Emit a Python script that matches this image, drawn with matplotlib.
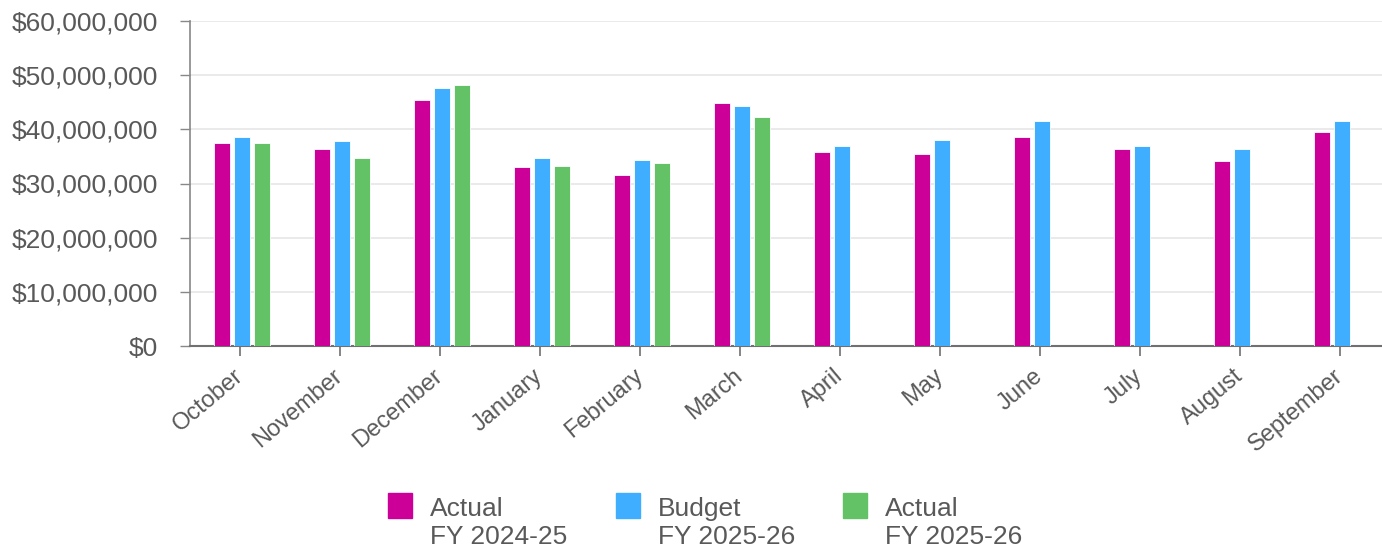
import matplotlib
matplotlib.use("Agg")
import matplotlib.pyplot as plt
import matplotlib.transforms as mtransforms
import numpy as np
from matplotlib.patches import Rectangle
from matplotlib.ticker import FuncFormatter

months = ["October", "November", "December", "January", "February", "March",
          "April", "May", "June", "July", "August", "September"]
actual_2425 = [37.4, 36.3, 45.5, 33.0, 31.5, 44.8, 35.9, 35.5, 38.5, 36.3, 34.1, 39.6]
budget_2526 = [38.5, 37.8, 47.7, 34.8, 34.4, 44.4, 37.0, 38.1, 41.5, 37.0, 36.3, 41.5]
actual_2526 = [37.4, 34.8, 48.1, 33.3, 33.7, 42.2, np.nan, np.nan, np.nan, np.nan, np.nan, np.nan]
series_names = ["Actual", "Budget", "Actual"]
series_years = ["FY 2024-25", "FY 2025-26", "FY 2025-26"]
colors = ["#CC0099", "#40AEFF", "#62C265"]

plt.rcParams['font.family'] = ['Liberation Sans', 'DejaVu Sans']
W, H = 1382, 550
fig = plt.figure(figsize=(W / 100, H / 100), dpi=100)
ax = fig.add_axes([190 / W, 1 - 346 / H, (1382 - 190) / W, (346 - 21) / H])

x = np.arange(len(months))
offsets = [-0.18, 0.02, 0.22]
bw = 0.16
for vals, off, c in zip([actual_2425, budget_2526, actual_2526], offsets, colors):
    ax.bar(x + off, np.array(vals) * 1e6, width=bw, color=c, edgecolor="white",
           linewidth=0.6, zorder=3)

ax.set_xlim(-0.5, 11.42)
ax.set_ylim(0, 60e6)
ax.set_yticks(np.arange(0, 60e6 + 1, 10e6))
ax.yaxis.set_major_formatter(FuncFormatter(lambda v, p: "${:,.0f}".format(v)))
ax.grid(axis="y", color="#e6e6e6", linewidth=1.2, zorder=0)
ax.set_axisbelow(True)

for s in ["top", "right"]:
    ax.spines[s].set_visible(False)
ax.spines["left"].set_color("#888888")
ax.spines["left"].set_linewidth(1.2)
ax.spines["bottom"].set_color("#707070")
ax.spines["bottom"].set_linewidth(1.5)

ax.tick_params(axis="y", length=7.2, width=1, color="#888888", pad=16,
               labelsize=19, labelcolor="#595959")
ax.tick_params(axis="x", length=7.5, width=1.2, color="#707070", pad=6,
               labelsize=17, labelcolor="#595959")
ax.set_xticks(x)
ax.set_xticklabels(months, rotation=40, ha="right", va="top", rotation_mode="anchor")
shift = mtransforms.ScaledTranslation(-0.07, 0, fig.dpi_scale_trans)
for lab in ax.get_xticklabels():
    lab.set_transform(lab.get_transform() + shift)

# legend (manual)
for i, (n, yr, c) in enumerate(zip(series_names, series_years, colors)):
    x0 = 388 + 227.5 * i
    fig.patches.append(Rectangle((x0 / W, 1 - 518 / H), 24 / W, 25 / H,
                                 transform=fig.transFigure, color=c))
    fig.text((x0 + 42) / W, 1 - 516 / H, n, fontsize=19, color="#595959", va="baseline")
    fig.text((x0 + 42) / W, 1 - 544 / H, yr, fontsize=19, color="#595959", va="baseline")

fig.savefig("out.png", dpi=100)
